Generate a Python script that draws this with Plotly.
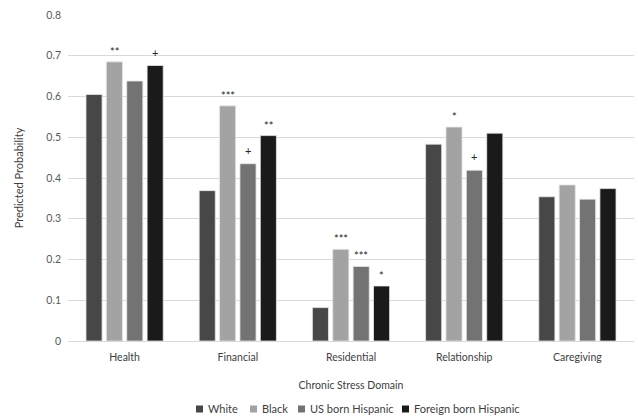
import plotly.graph_objects as go

categories = ["Health", "Financial", "Residential", "Relationship", "Caregiving"]
series_names = ["White", "Black", "US born Hispanic", "Foreign born Hispanic"]
white = [0.605, 0.369, 0.082, 0.483, 0.354]
black = [0.685, 0.577, 0.225, 0.525, 0.383]
us_born = [0.638, 0.435, 0.183, 0.419, 0.348]
foreign_born = [0.676, 0.504, 0.135, 0.510, 0.374]
sig_white = ["", "", "", "", ""]
sig_black = ["**", "***", "***", "*", ""]
sig_us = ["", "+", "***", "+", ""]
sig_foreign = ["+", "**", "*", "", ""]
y_ticks = [0, 0.1, 0.2, 0.3, 0.4, 0.5, 0.6, 0.7, 0.8]
y_tick_labels = ["0", "0.1", "0.2", "0.3", "0.4", "0.5", "0.6", "0.7", "0.8"]

colors = ["#474747", "#a3a3a3", "#737373", "#1a1a1a"]
values = [white, black, us_born, foreign_born]
sigs = [sig_white, sig_black, sig_us, sig_foreign]

FONT = "Lato, 'Open Sans', sans-serif"
W, H = 638, 416
ML, MR, MT, MB = 68, 4, 15, 75
PW, PH = W - ML - MR, H - MT - MB
BARGAP, BARGROUPGAP = 0.28, 0.21


def px2paper_x(px):
    return (px - ML) / PW


def px2paper_y(py):
    return (H - MB - py) / PH


fig = go.Figure()
for name, vals, col in zip(series_names, values, colors):
    fig.add_trace(go.Bar(
        name=name, x=categories, y=vals, marker_color=col,
        marker_line=dict(color="#e6e6e6", width=0.8),
        showlegend=False,
    ))

annotations = []
# significance marks above bars (anchored to category + value, shifted to the bar's slot)
cat_px = PW / len(categories)
slot_px = cat_px * (1 - BARGAP) / len(series_names)
for i, (vals, sig) in enumerate(zip(values, sigs)):
    off = (i - (len(series_names) - 1) / 2) * slot_px
    for c, v, s in zip(categories, vals, sig):
        if not s:
            continue
        annotations.append(dict(text=s, x=c, y=v, xref="x", yref="y",
                                xanchor="center", yanchor="bottom", showarrow=False,
                                xshift=off, yshift=(5 if s == "+" else 2),
                                font=dict(size=11, color="#262626", family=FONT)))

# custom legend (swatch + label) below the x-axis title
legend_left_px = [196, 250, 298, 402]
legend_y_px = 409
shapes = []
for name, col, lx in zip(series_names, colors, legend_left_px):
    shapes.append(dict(type="rect", xref="paper", yref="paper",
                       x0=px2paper_x(lx), x1=px2paper_x(lx + 7),
                       y0=px2paper_y(legend_y_px + 3.5), y1=px2paper_y(legend_y_px - 3.5),
                       fillcolor=col, line=dict(width=0)))
    annotations.append(dict(text=name, xref="paper", yref="paper",
                            x=px2paper_x(lx + 10), y=px2paper_y(legend_y_px),
                            xanchor="left", yanchor="middle", showarrow=False,
                            font=dict(size=11, color="#404040", family=FONT)))

fig.update_layout(
    width=W, height=H,
    margin=dict(l=ML, r=MR, t=MT, b=MB, autoexpand=False),
    barmode="group", bargap=BARGAP, bargroupgap=BARGROUPGAP,
    plot_bgcolor="white", paper_bgcolor="white",
    font=dict(family=FONT, size=10, color="#404040"),
    showlegend=False,
    shapes=shapes, annotations=annotations,
    xaxis=dict(title=dict(text="Chronic Stress Domain", standoff=20, font=dict(size=10.5, color="#404040")),
               showline=True, linecolor="#d9d9d9", ticks="", automargin=False,
               tickfont=dict(size=10.5, color="#404040"), ticklabelstandoff=6),
    yaxis=dict(title=dict(text="Predicted Probability", standoff=20, font=dict(size=11, color="#404040")),
               range=[0, 0.8], tickvals=y_ticks, ticktext=y_tick_labels, automargin=False,
               showgrid=True, gridcolor="#d9d9d9", zeroline=False,
               tickfont=dict(size=10.5, color="#595959"), ticklabelstandoff=6),
)

fig.write_html("out.html", config={"displayModeBar": False},
               post_script="document.body.style.margin='0';document.body.style.padding='0';document.body.style.overflow='hidden';")
